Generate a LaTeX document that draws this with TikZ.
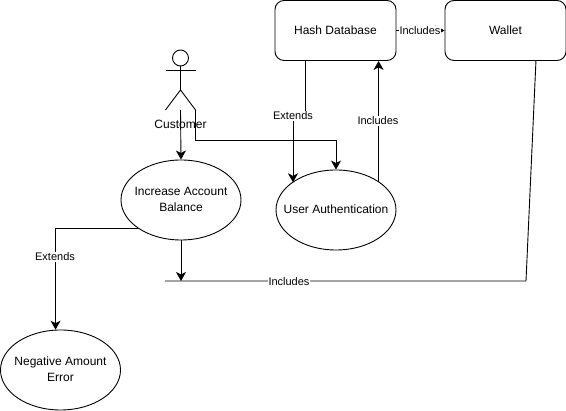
\documentclass[tikz,border=0pt]{standalone}
\usepackage{fontspec}
\setmainfont{Liberation Sans}
\usetikzlibrary{shapes.geometric,arrows.meta}
\newcommand{\caselabel}[1]{\makebox[0pt]{\raisebox{-2.5pt}{\begin{tabular}{@{}c@{}}#1\end{tabular}}}}
\tikzstyle{usecase}=[draw=black,ellipse,minimum width=120pt,minimum height=80pt,inner sep=0pt,font=\fontsize{12}{16}\selectfont]
\tikzstyle{store}=[draw=black,rectangle,rounded corners=9pt,minimum width=121pt,minimum height=60pt,inner sep=0pt,font=\fontsize{12}{15}\selectfont]
\tikzstyle{edgelabel}=[fill=white,inner sep=0.6pt,font=\fontsize{11}{13}\selectfont]
\tikzstyle{flow}=[-{Stealth[length=9pt,width=10pt,inset=2.5pt]}]

\begin{document}
\begin{tikzpicture}[x=1pt,y=-1pt,line width=0.9pt]
\useasboundingbox (0,0) rectangle (566,411);
%stores
\node[store] (hash) at (335.5,30.5) {Hash Database};
\node[store] (wallet) at (505.5,30.5) {Wallet};
%use cases
\node[usecase] (balance) at (181,200) {\caselabel{Increase Account\\Balance}};
\node[usecase] (auth) at (336,210) {\caselabel{User Authentication}};
\node[usecase] (negative) at (60.5,370) {\caselabel{Negative Amount\\Error}};
%actor
\node[draw,circle,minimum size=16pt,inner sep=0pt] (head) at (180.5,58) {};
\coordinate (hip) at (180.5,90);
\coordinate (armL) at (165.5,70);
\coordinate (armR) at (195.5,70);
\coordinate (footL) at (165.5,110);
\coordinate (footR) at (195.5,110);
\coordinate (feet) at (180.5,110);
\draw (head.south) -- (hip);
\draw (armL) -- (armR);
\draw (footL) -- (hip) -- (footR);
\node[font=\fontsize{12}{14}\selectfont,inner sep=0pt] (customer) at (180.5,124) {Customer};
%free ends
\coordinate (bend) at (293,115);
\coordinate (corner) at (526,281);
\coordinate (open) at (165,281);
%connectors
\draw[flow] (feet) -- (balance.north);
\draw[flow] (footR) |- (auth.north |- 0,140) -- (auth.north);
\draw[flow] (hash.225) |- (bend) -- (bend |- auth.148);
\draw[flow] (auth.34) -- (auth.34 |- hash.south);
\draw[flow] (hash.east) -- (wallet.west);
\draw[flow] (balance.south) -- (balance.south |- open);
\draw[flow] (balance.213) -| (negative.97);
\draw (wallet.315) -- (corner) -- (open);
%labels
\node[edgelabel] (extendsAuth) at (293,116) {Extends};
\node[edgelabel] (includesAuth) at (378,121) {Includes};
\node[edgelabel] (includesWallet) at (420,31) {Includes};
\node[edgelabel] (extendsBalance) at (55,257) {Extends};
\node[edgelabel] (includesBalance) at (289,282) {Includes};
\end{tikzpicture}
\end{document}
